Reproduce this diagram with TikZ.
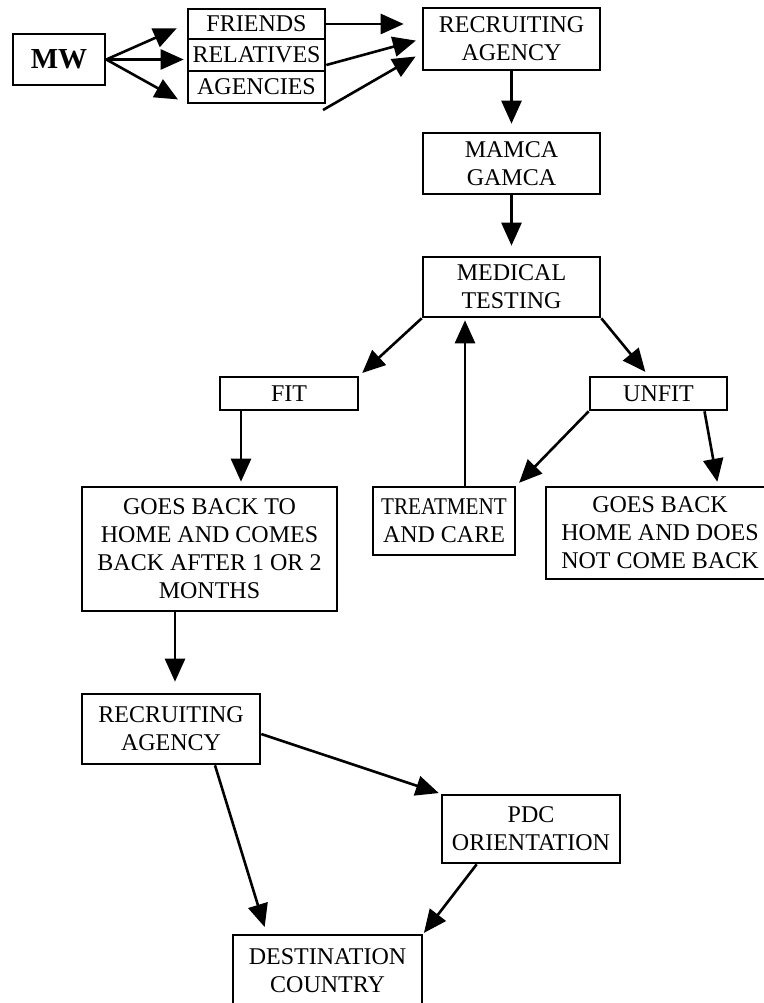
\documentclass[tikz,border=0pt]{standalone}
\usepackage{graphicx}
\usepackage{fontspec}
\setmainfont{Liberation Serif}
\usetikzlibrary{calc,arrows.meta}

\begin{document}
\begin{tikzpicture}[x=1pt, y=-1pt,
			box/.style={draw, line width=2.6pt, align=center, inner sep=0pt, font=\fontsize{24}{28}\selectfont},
			arr/.style={line width=2.6pt, -{Triangle[length=23pt,width=20pt]}}]
			%%%%% START %%%%%
			
			\useasboundingbox (0,0) rectangle (763,1003);
			
			\node[box, minimum width=92, minimum height=51, font=\fontsize{29}{32}\selectfont\bfseries] (mw) at (59, 59.5) {MW};
			
			\node[box, minimum width=137, minimum height=30] (friends) at (256.5, 24) {FRIENDS};
			\node[box, minimum width=137, minimum height=32] (relatives) at (256.5, 55) {RELATIVES};
			\node[box, minimum width=137, minimum height=32] (agencies) at (256.5, 87) {AGENCIES};
			\coordinate (agencytail) at (323, 110);
			
			\node[box, minimum width=177, minimum height=62] (ra1) at (511.5, 39) {RECRUITING\\AGENCY};
			\node[box, minimum width=177, minimum height=61] (mamca) at (511.5, 163.5) {MAMCA\\GAMCA};
			\node[box, minimum width=177, minimum height=60] (medical) at (511.5, 287) {MEDICAL\\TESTING};
			
			\node[box, minimum width=138, minimum height=33] (fit) at (289, 393.5) {FIT};
			\node[box, minimum width=137, minimum height=33] (unfit) at (658.5, 393.5) {UNFIT};
			
			\node[box, minimum width=142, minimum height=68] (treatment) at (444, 521) {\scalebox{0.88}[1]{TREATMENT}\\AND CARE};
			\node[box, minimum width=228, minimum height=92] (gohome) at (660, 533) {GOES BACK\\HOME AND DOES\\NOT COME BACK};
			\node[box, minimum width=255, minimum height=124] (gobackto) at (209.5, 549) {GOES BACK TO\\HOME AND COMES\\BACK AFTER 1 OR 2\\MONTHS};
			
			\node[box, minimum width=178, minimum height=70] (ra2) at (171, 729) {RECRUITING\\AGENCY};
			\node[box, minimum width=178, minimum height=68] (pdc) at (531, 829) {PDC\\ORIENTATION};
			\node[box, minimum width=189, minimum height=72] (dest) at (327.5, 971) {DESTINATION\\COUNTRY};
			
			% top row
			\draw[arr, shorten >=11pt] (mw.east) -- (friends.west);
			\draw[arr, shorten >=3pt] (mw.east) -- (mw.east -| relatives.west);
			\draw[arr, shorten >=10pt] (mw.east) -- (agencies.south west);
			
			\draw[arr, shorten >=18pt] (friends.east) -- (friends.east -| ra1.west);
			\draw[arr, shorten >=6pt] ($(relatives.east)+(0,10)$) -- (ra1.west);
			\draw[arr, shorten >=7pt] (agencytail) -- ($(ra1.west)+(0,14)$);
			
			\draw[arr, shorten >=8pt] (ra1.south) -- (mamca.north);
			\draw[arr, shorten >=10pt] (mamca.south) -- (medical.north);
			
			% medical split
			\draw[arr, shorten >=4pt] (medical.south west) -- (fit.north east);
			\draw[arr, shorten >=5pt] (medical.south east) -- ($(unfit.north)+(-10,0)$);
			
			\coordinate (treatfoot) at ($(treatment.north)+(21,0)$);
			\draw[arr, shorten >=2pt] (treatfoot) -- (treatfoot |- medical.south);
			
			\draw[arr, shorten >=4pt] (unfit.south west) -- (treatment.north east);
			\draw[arr, shorten >=4pt] ($(unfit.south)+(46,0)$) -- ($(gohome.north)+(58,0)$);
			
			\coordinate (fitfoot) at ($(fit.south)+(-48,0)$);
			\draw[arr, shorten >=4pt] (fitfoot) -- (fitfoot |- gobackto.north);
			
			% lower part
			\coordinate (ra2top) at ($(ra2.north)+(4,0)$);
			\draw[arr, shorten >=11pt] (ra2top |- gobackto.south) -- (ra2top);
			
			\draw[arr, shorten >=2pt] ($(ra2.east)+(0,5)$) -- (pdc.north west);
			\draw[arr, shorten >=7pt] ($(ra2.south)+(44,0)$) -- ($(dest.north west)+(35,0)$);
			\draw[arr, shorten >=1pt] ($(pdc.south west)+(36,0)$) -- (dest.north east);
			
			%%%%% END %%%%%
\end{tikzpicture}
\end{document}
